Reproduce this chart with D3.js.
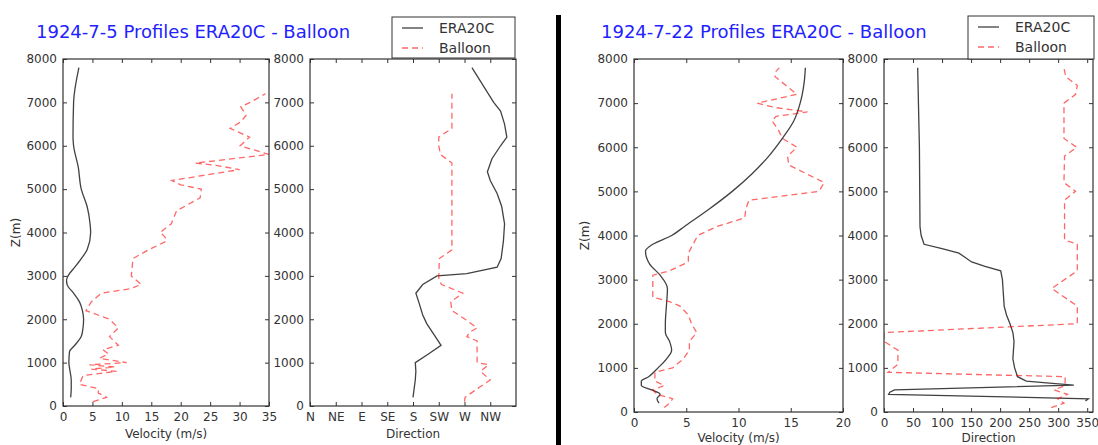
<!DOCTYPE html>
<html>
<head>
<meta charset="utf-8">
<script src="https://d3js.org/d3.v7.min.js"></script>
<style>
  body { margin: 0; background: #fff; }
  text { font-family: "DejaVu Sans", sans-serif; }
</style>
</head>
<body>
<div id="chart"></div>
<script>
// ---- 1924-7-5 : velocity ----
var era1VelZ = [200, 400, 600, 800, 1000, 1250, 1400, 1600, 1800, 2000, 2200, 2400, 2600, 2800, 2900, 3000, 3200, 3400, 3600, 4000, 4200, 4600, 5000, 5500, 6000, 6200, 7000, 7800];
var era1Vel  = [1.3, 1.4, 1.4, 1.2, 1.0, 1.1, 2.0, 3.1, 3.4, 3.5, 3.3, 2.8, 1.8, 0.7, 0.6, 0.85, 2.0, 3.1, 4.1, 4.7, 4.6, 4.1, 3.1, 2.6, 1.8, 1.7, 1.8, 2.7];
var bal1VelZ = [100, 200, 300, 400, 500, 700, 800, 850, 900, 950, 1000, 1100, 1200, 1300, 1400, 1600, 1800, 2000, 2200, 2400, 2600, 2700, 2800, 3000, 3400, 3600, 3800, 3900, 4000, 4200, 4500, 4800, 5000, 5100, 5200, 5450, 5550, 5600, 5800, 6000, 6200, 6400, 6550, 6700, 6900, 7000, 7200];
var bal1Vel  = [5.1, 7.4, 6.0, 6.0, 2.8, 3.4, 9.1, 4.8, 8.8, 4.5, 10.8, 6.2, 7.7, 6.8, 9.4, 7.9, 9.4, 7.9, 3.9, 4.8, 6.5, 11.3, 13.3, 11.6, 11.9, 14.5, 17.6, 17.3, 16.5, 18.4, 19.3, 23.3, 23.5, 20.0, 18.5, 30.0, 26.0, 22.5, 35.0, 30.1, 31.7, 28.4, 30.2, 31.1, 30.2, 31.8, 34.4];

// ---- 1924-7-5 : direction ----
var era1DirZ = [200, 600, 800, 1000, 1200, 1400, 1600, 1900, 2100, 2400, 2600, 2800, 3000, 3050, 3200, 3400, 3800, 4200, 4600, 4900, 5200, 5400, 5700, 6000, 6200, 6500, 6800, 7000, 7800];
var era1Dir  = [180, 184, 185, 184, 207, 229, 219, 204, 197, 190, 185, 197, 222, 274, 327, 334, 338, 340, 335, 327, 315, 310, 318, 333, 344, 340, 333, 321, 283];
var bal1DirZ = [100, 200, 450, 600, 800, 950, 1000, 1500, 1600, 1700, 1800, 2000, 2200, 2400, 2600, 2800, 2900, 3400, 3600, 5600, 5800, 6000, 6200, 6400, 7200];
var bal1Dir  = [270, 271, 298, 315, 298, 312, 292, 292, 274, 279, 292, 271, 248, 246, 267, 230, 225, 226, 248, 248, 228, 225, 225, 248, 248];

// ---- 1924-7-22 : velocity ----
var era2VelZ = [200, 300, 400, 500, 600, 700, 800, 1000, 1200, 1400, 1600, 1800, 2000, 2400, 2800, 3100, 3350, 3500, 3650, 3800, 4000, 4200, 4600, 5000, 5400, 5800, 6200, 6600, 7000, 7200, 7500, 7800];
var era2Vel  = [2.4, 2.2, 2.5, 1.7, 0.7, 0.7, 1.4, 2.3, 3.1, 3.6, 3.4, 3.0, 3.0, 3.1, 3.2, 2.5, 1.5, 1.2, 1.1, 1.8, 3.6, 4.8, 7.2, 9.4, 11.3, 12.9, 14.2, 15.3, 15.9, 16.1, 16.3, 16.4];
var bal2VelZ = [100, 200, 300, 400, 500, 600, 700, 900, 1000, 1200, 1400, 1600, 1800, 2000, 2200, 2400, 2500, 2600, 2800, 3100, 3200, 3400, 3600, 4000, 4200, 4400, 4600, 4800, 5000, 5200, 5600, 5800, 6000, 6200, 6400, 6600, 6700, 6800, 6900, 7000, 7200, 7600, 7700, 7800];
var bal2Vel  = [2.9, 3.4, 3.7, 2.2, 1.8, 2.9, 2.0, 2.0, 3.7, 4.7, 5.3, 5.3, 6.0, 5.5, 5.2, 4.4, 3.4, 1.8, 1.8, 1.8, 3.4, 5.2, 5.2, 6.1, 7.9, 10.6, 10.7, 11.0, 17.7, 18.2, 14.8, 14.7, 15.6, 14.2, 13.8, 13.2, 13.6, 16.6, 13.5, 11.8, 15.6, 13.5, 13.5, 13.9];

// ---- 1924-7-22 : direction ----
var era2DirZ = [250, 300, 400, 450, 500, 610, 650, 700, 800, 1000, 1200, 1600, 1800, 2000, 2200, 2400, 2800, 3000, 3200, 3300, 3400, 3500, 3600, 3700, 3800, 4000, 4200, 6000, 7800];
var era2Dir  = [347, 352, 8, 10, 18, 327, 290, 245, 230, 225, 222, 224, 222, 217, 211, 207, 205, 204, 201, 174, 151, 140, 129, 100, 69, 64, 62, 61, 58];
var bal2DirZ = [100, 200, 300, 400, 500, 600, 800, 900, 1080, 1400, 1600, 1800, 2000, 2400, 2800, 3200, 3800, 3900, 4800, 5000, 5200, 5800, 6000, 6200, 7000, 7200, 7400, 7600, 7800];
var bal2Dir  = [288, 310, 299, 316, 293, 312, 312, 7, 24, 24, 0, 0, 333, 333, 289, 333, 333, 311, 311, 330, 310, 311, 332, 310, 310, 330, 333, 313, 310];

// ---- axes ----
var zTicks = d3.range(0, 8001, 1000);
var compassTicks = [0, 45, 90, 135, 180, 225, 270, 315];
var compassNames = ["N", "NE", "E", "SE", "S", "SW", "W", "NW"];
var titles = ["1924-7-5 Profiles ERA20C - Balloon", "1924-7-22 Profiles ERA20C - Balloon"];
var seriesNames = ["ERA20C", "Balloon"];

var svg = d3.select("#chart").append("svg")
    .attr("width", 1098)
    .attr("height", 445)
    .style("background", "#fff");

var ink = "#333";

function drawPanel(p) {
    var x = d3.scaleLinear().domain(p.xDomain).range([p.left, p.right]);
    var y = d3.scaleLinear().domain([0, 8000]).range([p.bottom, p.top]);

    // clip
    svg.append("clipPath").attr("id", "clip" + p.id)
        .append("rect")
        .attr("x", p.left).attr("y", p.top)
        .attr("width", p.right - p.left).attr("height", p.bottom - p.top);

    var line = d3.line()
        .x(function (d) { return x(d[1]); })
        .y(function (d) { return y(d[0]); });

    var g = svg.append("g").attr("clip-path", "url(#clip" + p.id + ")");

    g.append("path")
        .datum(d3.zip(p.eraZ, p.era))
        .attr("d", line.curve(p.smooth ? d3.curveMonotoneY : d3.curveLinear))
        .attr("fill", "none")
        .attr("stroke", "#111")
        .attr("stroke-opacity", 0.8)
        .attr("stroke-width", 1.3);

    g.append("path")
        .datum(d3.zip(p.balZ, p.bal))
        .attr("d", line.curve(d3.curveLinear))
        .attr("fill", "none")
        .attr("stroke", "#ff0000")
        .attr("stroke-opacity", 0.6)
        .attr("stroke-width", 1.3)
        .attr("stroke-dasharray", "6,4");

    // axes (ticks point inwards, on every side)
    var axes = [
        svg.append("g").attr("transform", "translate(0," + p.bottom + ")")
            .call(d3.axisBottom(x).tickValues(p.ticks).tickFormat(p.fmt).tickSizeInner(-4).tickSizeOuter(0).tickPadding(6)),
        svg.append("g").attr("transform", "translate(0," + p.top + ")")
            .call(d3.axisTop(x).tickValues(p.ticks).tickFormat("").tickSizeInner(-4).tickSizeOuter(0)),
        svg.append("g").attr("transform", "translate(" + p.left + ",0)")
            .call(d3.axisLeft(y).tickValues(zTicks).tickFormat(d3.format("d")).tickSizeInner(-4).tickSizeOuter(0).tickPadding(6)),
        svg.append("g").attr("transform", "translate(" + p.right + ",0)")
            .call(d3.axisRight(y).tickValues(zTicks).tickFormat("").tickSizeInner(-4).tickSizeOuter(0))
    ];
    axes.forEach(function (a) {
        a.attr("font-family", "DejaVu Sans").attr("font-size", 12);
        a.select(".domain").remove();
        a.selectAll("line").attr("stroke", ink);
        a.selectAll("text").attr("fill", ink);
    });

    svg.append("rect")
        .attr("x", p.left).attr("y", p.top)
        .attr("width", p.right - p.left).attr("height", p.bottom - p.top)
        .attr("fill", "none")
        .attr("stroke", ink)
        .attr("stroke-width", 1.2);

    svg.append("text")
        .attr("x", (p.left + p.right) / 2)
        .attr("y", p.xLabelY)
        .attr("text-anchor", "middle")
        .attr("font-size", 12)
        .attr("fill", ink)
        .text(p.xLabel);

    if (p.yLabel) {
        svg.append("text")
            .attr("transform", "translate(" + p.yLabelX + "," + (p.top + p.bottom) / 2 + ") rotate(-90)")
            .attr("text-anchor", "middle")
            .attr("font-size", 12)
            .attr("fill", ink)
            .text(p.yLabel);
    }
}

function drawLegend(lx, ly, w, h) {
    var lg = svg.append("g").attr("transform", "translate(" + lx + "," + ly + ")");
    lg.append("rect")
        .attr("width", w).attr("height", h)
        .attr("fill", "#fff")
        .attr("stroke", ink)
        .attr("stroke-width", 1);
    seriesNames.forEach(function (name, i) {
        var yy = 11 + i * 20;
        lg.append("line")
            .attr("x1", 10).attr("x2", 31)
            .attr("y1", yy).attr("y2", yy)
            .attr("stroke", i === 0 ? "#111" : "#ff0000")
            .attr("stroke-opacity", i === 0 ? 0.8 : 0.6)
            .attr("stroke-width", 1.3)
            .attr("stroke-dasharray", i === 0 ? null : "6,4");
        lg.append("text")
            .attr("x", 47).attr("y", yy + 5)
            .attr("font-size", 14)
            .attr("fill", ink)
            .text(name);
    });
}

var velFmt = function (d) { return d; };
var dirFmt = function (d) { return compassNames[compassTicks.indexOf(d)]; };

// left figure
drawPanel({ id: 1, left: 63, right: 269, top: 59, bottom: 406, xDomain: [0, 35], ticks: d3.range(0, 36, 5), fmt: velFmt,
    eraZ: era1VelZ, era: era1Vel, balZ: bal1VelZ, bal: bal1Vel, smooth: true,
    xLabel: "Velocity (m/s)", xLabelY: 438, yLabel: "Z(m)", yLabelX: 20 });
drawPanel({ id: 2, left: 310, right: 516, top: 59, bottom: 406, xDomain: [0, 360], ticks: compassTicks, fmt: dirFmt,
    eraZ: era1DirZ, era: era1Dir, balZ: bal1DirZ, bal: bal1Dir, smooth: false,
    xLabel: "Direction", xLabelY: 438 });

// right figure
drawPanel({ id: 3, left: 634, right: 843, top: 59, bottom: 412, xDomain: [0, 20], ticks: d3.range(0, 21, 5), fmt: velFmt,
    eraZ: era2VelZ, era: era2Vel, balZ: bal2VelZ, bal: bal2Vel, smooth: true,
    xLabel: "Velocity (m/s)", xLabelY: 442, yLabel: "Z(m)", yLabelX: 589 });
drawPanel({ id: 4, left: 884, right: 1093, top: 59, bottom: 412, xDomain: [0, 360], ticks: d3.range(0, 351, 50), fmt: velFmt,
    eraZ: era2DirZ, era: era2Dir, balZ: bal2DirZ, bal: bal2Dir, smooth: false,
    xLabel: "Direction", xLabelY: 442 });

drawLegend(392, 17, 123, 41);
drawLegend(968, 16, 126, 43);

// titles
svg.append("text").attr("x", 36).attr("y", 38).attr("font-size", 18).attr("fill", "#2222ff").text(titles[0]);
svg.append("text").attr("x", 601).attr("y", 38).attr("font-size", 18).attr("fill", "#2222ff").text(titles[1]);

// divider between the two figures
svg.append("rect").attr("x", 556).attr("y", 15).attr("width", 5).attr("height", 430).attr("fill", "#000");
</script>
</body>
</html>
